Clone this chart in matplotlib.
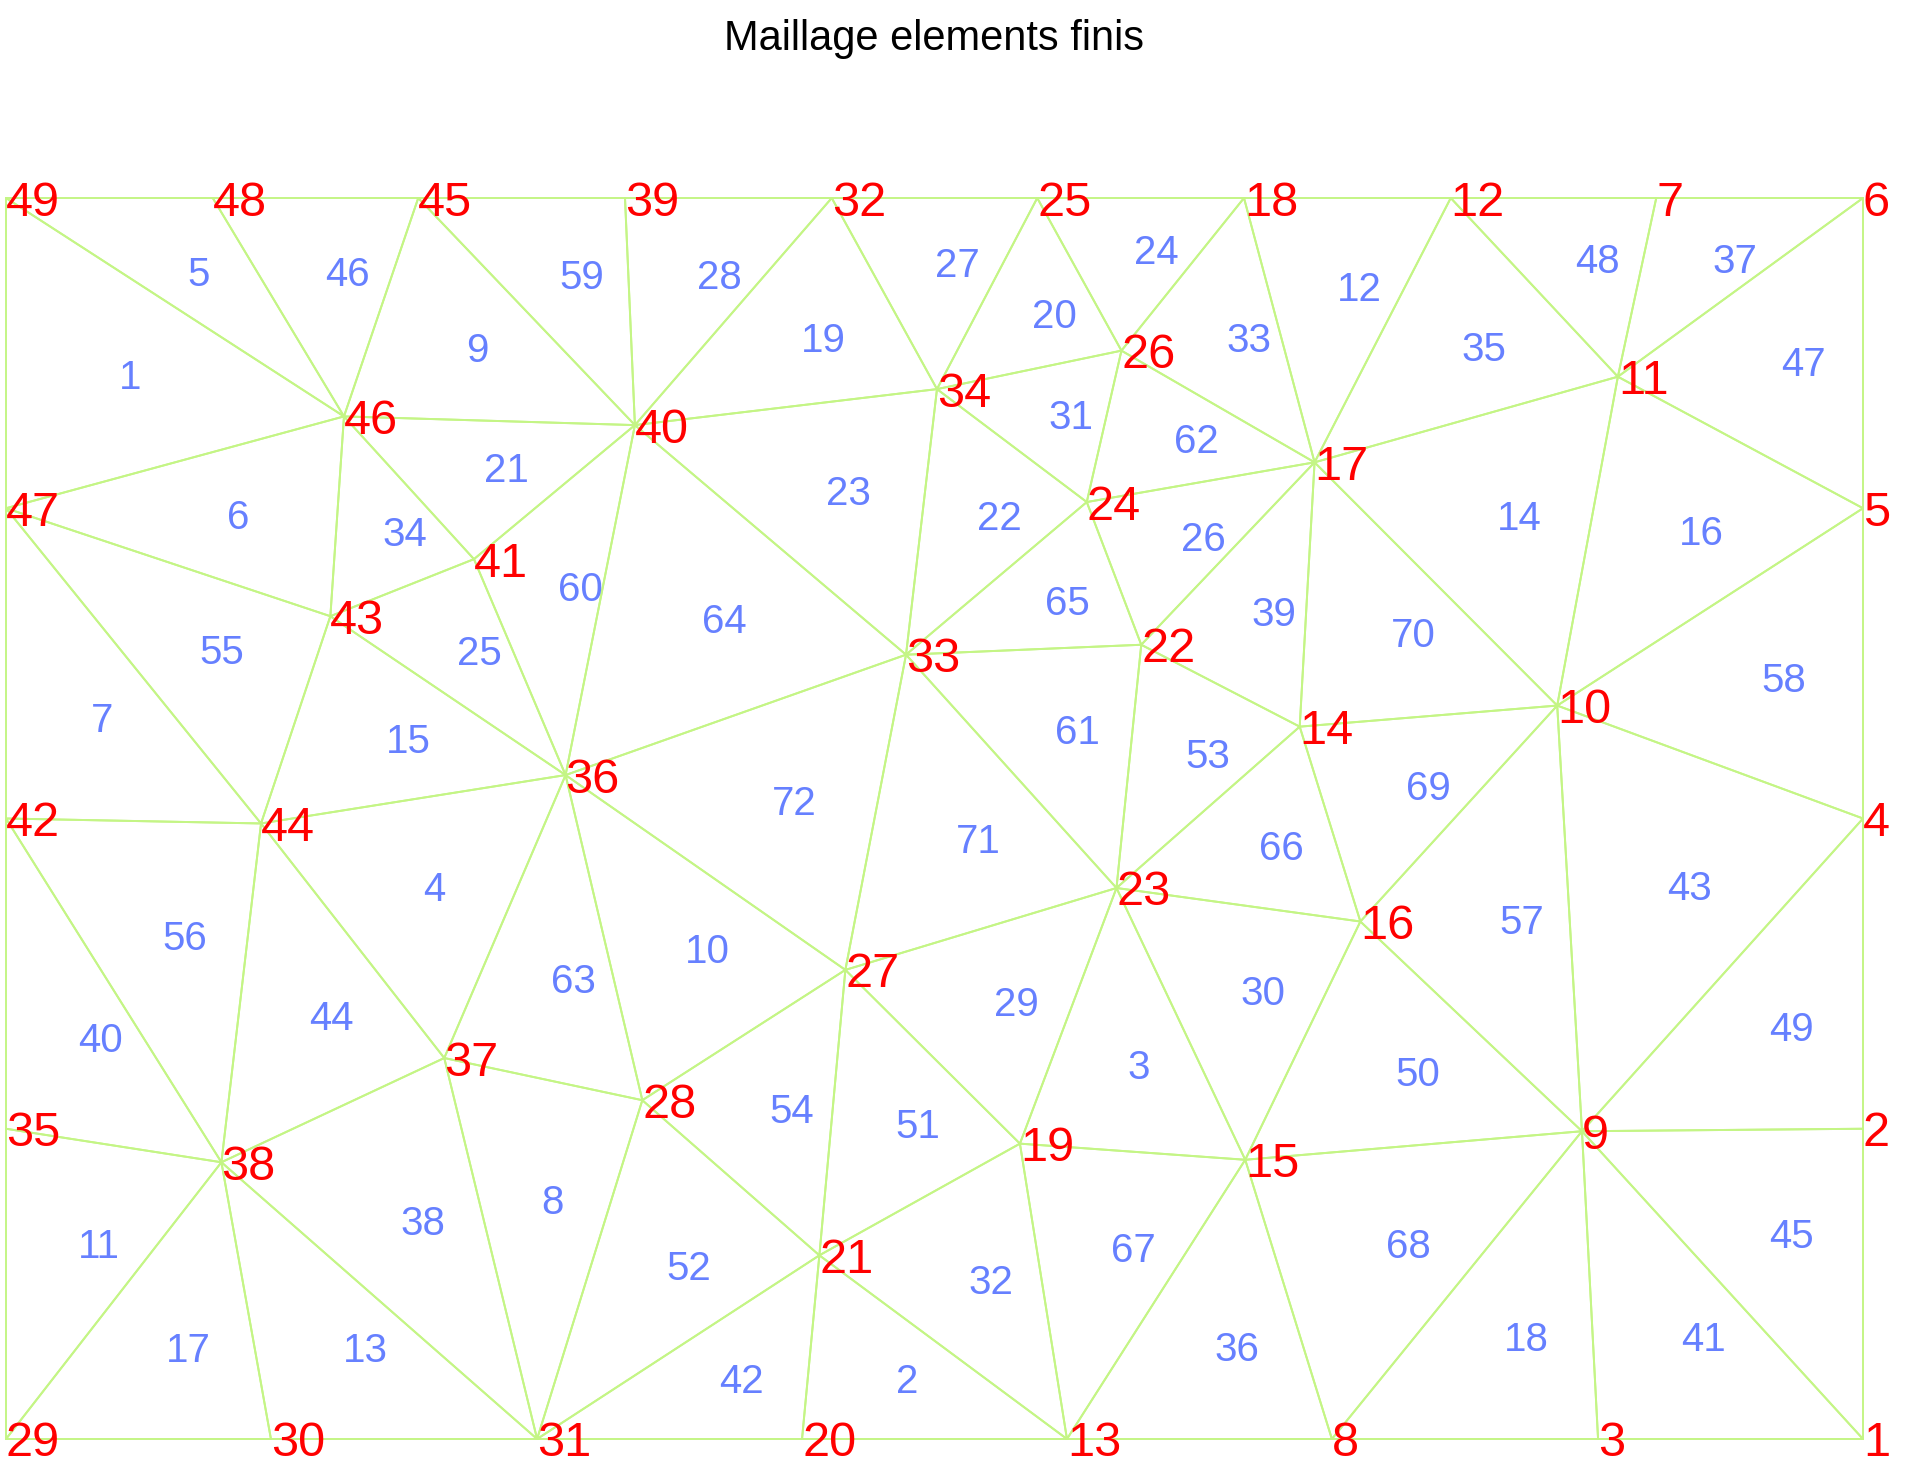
import matplotlib
matplotlib.use("Agg")
import matplotlib.pyplot as plt
import numpy as np

plt.rcParams['font.family'] = ['Liberation Sans', 'DejaVu Sans']

# node coordinates (node number = index + 1)
node_x = [1.500, 1.500, 1.286, 1.500, 1.500, 1.500, 1.333, 1.071, 1.273, 1.253,
          1.302, 1.167, 0.857, 1.045, 1.001, 1.094, 1.057, 1.000, 0.819, 0.643,
          0.657, 0.917, 0.897, 0.873, 0.833, 0.901, 0.678, 0.514, 0.000, 0.214,
          0.429, 0.667, 0.727, 0.752, 0.000, 0.452, 0.354, 0.174, 0.500, 0.508,
          0.378, 0.000, 0.262, 0.206, 0.333, 0.273, 0.000, 0.167, 0.000]
node_y = [0.000, 0.250, 0.000, 0.500, 0.750, 1.000, 1.000, 0.000, 0.248, 0.591,
          0.856, 1.000, 0.000, 0.574, 0.225, 0.417, 0.787, 1.000, 0.238, 0.000,
          0.148, 0.640, 0.444, 0.755, 1.000, 0.877, 0.378, 0.273, 0.000, 0.000,
          0.000, 1.000, 0.632, 0.846, 0.250, 0.535, 0.307, 0.223, 1.000, 0.817,
          0.709, 0.500, 0.663, 0.496, 1.000, 0.824, 0.750, 1.000, 1.000]

# element connectivity (element number = index + 1)
elements = [
    (49, 47, 46), (20, 21, 13), (23, 15, 19), (44, 36, 37), (49, 48, 46),
    (47, 46, 43), (47, 44, 42), (37, 28, 31), (45, 40, 46), (36, 27, 28),
    (35, 38, 29), (18, 12, 17), (38, 31, 30), (11, 10, 17), (43, 36, 44),
    (11, 5, 10), (29, 38, 30), (3, 8, 9), (32, 34, 40), (25, 26, 34),
    (46, 40, 41), (34, 24, 33), (40, 34, 33), (25, 18, 26), (43, 41, 36),
    (24, 17, 22), (32, 25, 34), (39, 32, 40), (27, 23, 19), (23, 16, 15),
    (34, 26, 24), (21, 19, 13), (18, 17, 26), (46, 41, 43), (12, 11, 17),
    (13, 15, 8), (7, 6, 11), (38, 37, 31), (22, 17, 14), (42, 38, 35),
    (1, 3, 9), (31, 21, 20), (10, 4, 9), (44, 37, 38), (2, 1, 9),
    (48, 45, 46), (6, 5, 11), (12, 7, 11), (4, 2, 9), (15, 16, 9),
    (27, 19, 21), (31, 28, 21), (22, 14, 23), (28, 27, 21), (47, 43, 44),
    (42, 44, 38), (16, 10, 9), (5, 4, 10), (45, 39, 40), (41, 40, 36),
    (33, 22, 23), (26, 17, 24), (36, 28, 37), (40, 33, 36), (33, 24, 22),
    (14, 16, 23), (19, 15, 13), (8, 15, 9), (14, 10, 16), (17, 10, 14),
    (33, 23, 27), (36, 33, 27),
]

title = "Maillage elements finis"

x = np.array(node_x)
y = np.array(node_y)
tri = np.array(elements) - 1

fig = plt.figure(figsize=(19.08, 14.71), dpi=100)
ax = fig.add_axes([6 / 1908, 1 - 1439 / 1471, 1857 / 1908, 1241 / 1471])

edge_color = '#c4f585'
for t in tri:
    loop = np.append(t, t[0])
    ax.plot(x[loop], y[loop], color=edge_color, lw=1.4,
            solid_capstyle='round', clip_on=False)

for k, t in enumerate(tri):
    cx, cy = x[t].mean(), y[t].mean()
    ax.text(cx, cy, str(k + 1), color='#6680ff', fontsize=29,
            ha='left', va='center_baseline')

for k in range(len(x)):
    ax.text(x[k], y[k], str(k + 1), color='red', fontsize=35,
            ha='left', va='center_baseline')

ax.set_xlim(0, 1.5)
ax.set_ylim(0, 1)
ax.axis('off')

fig.text(934.5 / 1908, 1 - 39 / 1471, title, fontsize=30, ha='center', va='center')

fig.savefig('out.png', dpi=100)
